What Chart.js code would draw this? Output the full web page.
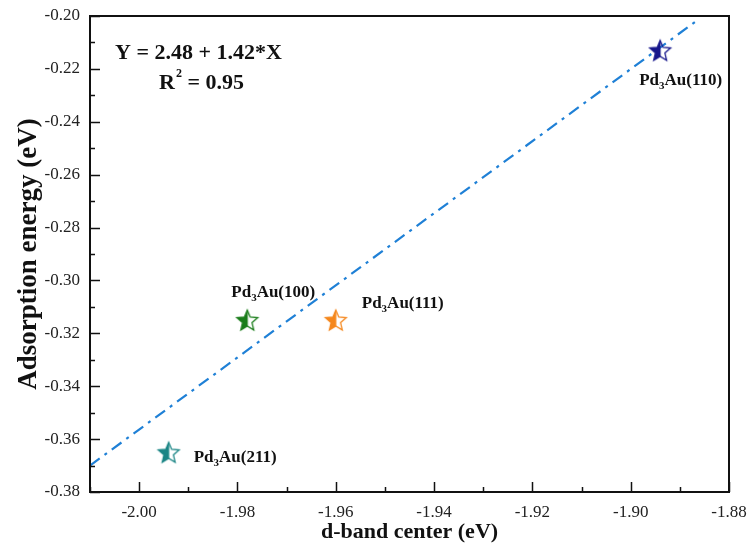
<!DOCTYPE html>
<html><head><meta charset="utf-8">
<script src="https://cdn.jsdelivr.net/npm/chart.js@4"></script>
<style>html,body{margin:0;padding:0;background:#fff}</style>
</head><body>
<canvas id="c" width="750" height="550"></canvas>
<script>
// ---- data ----
const facets = ['(211)', '(100)', '(111)', '(110)'];
const dBandCenter = [-1.994, -1.978, -1.960, -1.894];
const adsorptionEnergy = [-0.365, -0.315, -0.315, -0.213];
const fitX = [-2.01, -1.886];
const fitY = [-0.370, -0.201];
const xTicks = [-2.00, -1.98, -1.96, -1.94, -1.92, -1.90, -1.88];
const yTicks = [-0.38, -0.36, -0.34, -0.32, -0.30, -0.28, -0.26, -0.24, -0.22, -0.20];
const equationText = 'Y = 2.48 + 1.42*X';
const r2Text = ' = 0.95';

// ---- styles ----
const starColors = ['#1a8585', '#1a7d1a', '#f5871c', '#17178c'];
const labelOffsets = [[25, 5], [-16, -28], [26, -17], [-21, 30]];
const SERIF = '"Liberation Serif", "Times New Roman", serif';

function makeStar(color) {
  const s = 26, c = document.createElement('canvas');
  c.width = s; c.height = s;
  const g = c.getContext('2d');
  const R = 11, r = 5.0, cx = s / 2, cy = s / 2 + 1;
  g.beginPath();
  for (let i = 0; i < 10; i++) {
    const rad = i % 2 === 0 ? R : r;
    const a = -Math.PI / 2 + i * Math.PI / 5;
    const px = cx + rad * Math.cos(a), py = cy + rad * Math.sin(a);
    if (i === 0) g.moveTo(px, py); else g.lineTo(px, py);
  }
  g.closePath();
  g.save();
  g.clip();
  g.fillStyle = color;
  g.fillRect(0, 0, cx + 0.5, s);
  g.restore();
  g.strokeStyle = color;
  g.lineWidth = 1.3;
  g.lineJoin = 'miter';
  g.stroke();
  return c;
}
const starImgs = starColors.map(makeStar);

function drawSubLabel(ctx, x, y, parts) {
  let cx = x;
  for (const [t, k] of parts) {
    if (k === 'n') {
      ctx.font = 'bold 17px ' + SERIF;
      ctx.fillText(t, cx, y);
    } else if (k === 'sub') {
      ctx.font = 'bold 11px ' + SERIF;
      ctx.fillText(t, cx, y + 6);
    } else {
      ctx.font = 'bold 12px ' + SERIF;
      ctx.fillText(t, cx, y - 8);
    }
    cx += ctx.measureText(t).width;
  }
}

const decor = {
  id: 'decor',
  afterDatasetsDraw(chart) {
    const ctx = chart.ctx, xs = chart.scales.x, ys = chart.scales.y;
    const a = chart.chartArea;
    ctx.save();
    ctx.strokeStyle = '#111';
    ctx.lineWidth = 1.5;
    const xMinor = [xs.min];
    for (let i = 0; i < xTicks.length - 1; i++) xMinor.push((xTicks[i] + xTicks[i + 1]) / 2);
    const yMinor = [];
    for (let i = 0; i < yTicks.length - 1; i++) yMinor.push((yTicks[i] + yTicks[i + 1]) / 2);
    ctx.beginPath();
    xTicks.forEach(v => { const p = Math.round(xs.getPixelForValue(v)) + 0.5; ctx.moveTo(p, a.bottom); ctx.lineTo(p, a.bottom - 10); });
    xMinor.forEach(v => { const p = Math.round(xs.getPixelForValue(v)) + 0.5; ctx.moveTo(p, a.bottom); ctx.lineTo(p, a.bottom - 5); });
    yTicks.forEach(v => { const p = Math.round(ys.getPixelForValue(v)) + 0.5; ctx.moveTo(a.left, p); ctx.lineTo(a.left + 10, p); });
    yMinor.forEach(v => { const p = Math.round(ys.getPixelForValue(v)) + 0.5; ctx.moveTo(a.left, p); ctx.lineTo(a.left + 5, p); });
    ctx.stroke();
    ctx.lineWidth = 2;
    ctx.strokeRect(a.left, a.top, a.right - a.left, a.bottom - a.top);
    ctx.fillStyle = '#111';
    ctx.textAlign = 'left';
    ctx.textBaseline = 'middle';
    facets.forEach((f, i) => {
      const px = xs.getPixelForValue(dBandCenter[i]) + labelOffsets[i][0];
      const py = ys.getPixelForValue(adsorptionEnergy[i]) + labelOffsets[i][1];
      drawSubLabel(ctx, px, py, [['Pd', 'n'], ['3', 'sub'], ['Au' + f, 'n']]);
    });
    ctx.font = 'bold 22px ' + SERIF;
    ctx.fillText(equationText, a.left + 25, a.top + 37);
    let rx = a.left + 69;
    ctx.fillText('R', rx, a.top + 67);
    rx += ctx.measureText('R').width;
    ctx.font = 'bold 12px ' + SERIF;
    ctx.fillText('2', rx + 1, a.top + 58);
    rx += ctx.measureText('2').width + 1;
    ctx.font = 'bold 22px ' + SERIF;
    ctx.fillText(r2Text, rx, a.top + 67);
    ctx.restore();
  }
};

const points = dBandCenter.map((x, i) => ({ x, y: adsorptionEnergy[i] }));
const fitLine = fitX.map((x, i) => ({ x, y: fitY[i] }));

new Chart(document.getElementById('c'), {
  type: 'scatter',
  data: {
    datasets: [
      {
        label: 'Linear fit',
        data: fitLine,
        showLine: true,
        borderColor: '#1f80d6',
        borderWidth: 2.2,
        borderDash: [12, 6, 3, 6],
        pointRadius: 0,
        fill: false,
        order: 2
      },
      {
        label: 'Surfaces',
        data: points,
        pointStyle: starImgs,
        pointRadius: 12,
        order: 1
      }
    ]
  },
  options: {
    responsive: false,
    animation: false,
    devicePixelRatio: 1,
    layout: { padding: { left: 0, top: 16, right: 21, bottom: 0 } },
    plugins: { legend: { display: false }, tooltip: { enabled: false } },
    scales: {
      x: {
        type: 'linear',
        min: -2.01,
        max: -1.88,
        afterBuildTicks: s => { s.ticks = xTicks.map(v => ({ value: v })); },
        afterFit: s => { s.height = 58; s.paddingLeft = 0; s.paddingRight = 0; },
        grid: { display: true, drawOnChartArea: false, drawTicks: false },
        border: { display: false },
        ticks: {
          padding: 10,
          color: '#222',
          font: { family: SERIF, size: 17 },
          callback: v => v.toFixed(2)
        },
        title: {
          display: true,
          text: 'd-band center (eV)',
          color: '#111',
          font: { family: SERIF, size: 22, weight: 'bold' },
          padding: { top: 0, bottom: 4 }
        }
      },
      y: {
        type: 'linear',
        min: -0.38,
        max: -0.20,
        afterBuildTicks: s => { s.ticks = yTicks.map(v => ({ value: v })); },
        afterFit: s => { s.width = 90; s.paddingTop = 0; s.paddingBottom = 0; },
        grid: { display: true, drawOnChartArea: false, drawTicks: false },
        border: { display: false },
        ticks: {
          padding: 10,
          color: '#222',
          font: { family: SERIF, size: 17 },
          callback: v => v.toFixed(2)
        },
        title: {
          display: true,
          text: 'Adsorption energy (eV)',
          color: '#111',
          font: { family: SERIF, size: 27, weight: 'bold' },
          padding: { top: 13, bottom: 0 }
        }
      }
    }
  },
  plugins: [decor]
});
</script>
</body></html>
